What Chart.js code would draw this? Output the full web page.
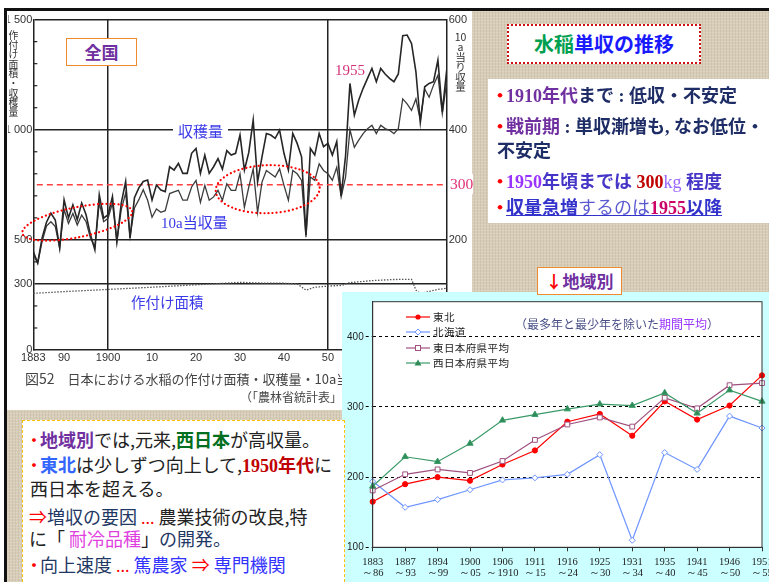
<!DOCTYPE html>
<html>
<head>
<meta charset="utf-8">
<script src="https://cdn.jsdelivr.net/npm/chart.js@4.4.0/dist/chart.umd.min.js"></script>
<style>
  html, body { margin: 0; padding: 0; }
  body {
    width: 769px; height: 582px; overflow: hidden; position: relative;
    font-family: "Noto Sans CJK JP", sans-serif;
    background:
      repeating-linear-gradient(0deg, rgba(255,255,255,0.13) 0 1px, transparent 1px 3px),
      repeating-linear-gradient(90deg, rgba(110,90,60,0.10) 0 1px, transparent 1px 3px),
      #d7cdb8;
  }
  .abs { position: absolute; }
  .ser { font-family: "Liberation Serif", "Noto Sans CJK JP", serif; }
  .r { color: #ff0000; }
  .b { position: absolute; white-space: nowrap; line-height: 24px; }
  .dots { font-family: "Liberation Serif", serif; color: #ff0000; }
</style>
</head>
<body>

<!-- frame of the scanned figure -->
<div class="abs" style="left:0;top:0;width:769px;height:8px;background:#fff"></div>
<div class="abs" style="left:0;top:0;width:4px;height:582px;background:#fff"></div>
<div class="abs" style="left:4px;top:8px;width:765px;height:3px;background:#111"></div>
<div class="abs" style="left:4px;top:8px;width:3px;height:574px;background:#111"></div>
<div class="abs" style="left:7px;top:11px;width:465px;height:399px;background:#fff"></div>

<canvas id="zenkoku" class="abs" width="464" height="399" style="left:8px;top:11px"></canvas>

<!-- texts on the figure -->
<div class="abs" style="left:8px;top:31px;width:11px;font-size:9.8px;line-height:9.6px;color:#333;text-align:center">作<br>付<br>け<br>面<br>積<br>・<br>収<br>穫<br>量</div>
<div class="abs" style="left:454px;top:32px;width:13px;font-size:10.5px;line-height:10px;color:#333;text-align:center">10<br>a<br>当<br>り<br>収<br>量</div>
<div class="abs" style="left:66px;top:38px;width:69px;height:26px;border:1.5px solid #f08a30;background:#fff;text-align:center;font-size:17px;line-height:26px;font-weight:bold;color:#7030a0">全国</div>
<div class="abs ser" style="left:335px;top:62px;font-size:15px;color:#d2307a">1955</div>
<div class="abs" style="left:173px;top:121px;padding:0 5px;background:#fff;font-size:15px;line-height:20px;color:#3a3ae8">収穫量</div>
<div class="abs ser" style="left:161px;top:212px;font-size:15px;line-height:20px;color:#3a3ae8">10a<span style="font-family:'Noto Sans CJK JP'">当収量</span></div>
<div class="abs" style="left:131px;top:292px;font-size:14.5px;line-height:20px;color:#3a3ae8">作付け面積</div>
<div class="abs ser" style="left:450px;top:174px;font-size:15.5px;line-height:20px;color:#e0307a;background:#fff">300</div>
<div class="abs" style="left:25px;top:369px;font-size:13px;line-height:18px;color:#444;white-space:nowrap"><span style="font-size:14px">図52</span>　日本における水稲の作付け面積・収穫量・10a当収量</div>
<div class="abs" style="left:240px;top:389px;font-size:12px;line-height:16px;color:#444;white-space:nowrap">（「農林省統計表」により作成）</div>

<!-- top right -->
<div class="abs" style="left:507px;top:24px;width:190px;height:36px;background:#fff;border:2px dotted #cc1010;text-align:center;font-size:20px;line-height:36px;font-weight:bold;color:#1a1aff">
  <span style="color:#00a050">水稲</span>単収の推移</div>

<div class="abs" style="left:488px;top:79px;width:290px;height:144px;background:#fff;font-weight:bold;font-size:18px;color:#1f2d66">
  <div class="b ser" style="left:3px;top:5px"><span class="r" style="letter-spacing:-3px">・</span><span style="color:#7030a0">1910年代</span>まで : 低収・不安定</div>
  <div class="b ser" style="left:3px;top:36px"><span class="r" style="letter-spacing:-3px">・</span><span style="color:#7030a0">戦前期</span> : 単収漸増も, なお低位・</div>
  <div class="b ser" style="left:9px;top:60px">不安定</div>
  <div class="b ser" style="left:3px;top:91px"><span class="r" style="letter-spacing:-3px">・</span><span style="color:#9933ff">1950</span><span style="color:#4636c8">年頃までは </span><span style="color:#c00000">300</span><span style="color:#9966ff;font-weight:normal">kg</span><span style="color:#4636c8"> 程度</span></div>
  <div class="b ser" style="left:3px;top:117px"><span class="r" style="letter-spacing:-3px">・</span><span style="color:#3333cc;text-decoration:underline">収量急増<span style="font-weight:normal;color:#5a5ad0">するのは</span><span style="color:#cc0066">1955</span>以降</span></div>
</div>

<div class="abs" style="left:537px;top:267px;width:83px;height:26px;background:#fff;border:1.5px solid #f08a30;text-align:center;font-size:17px;line-height:26px;font-weight:bold;color:#7030a0;z-index:7">
  <span class="r">↓</span>地域別</div>

<!-- right panel: regional chart -->
<div class="abs" style="left:342px;top:292px;width:427px;height:290px;background:#ccffff;overflow:hidden;z-index:5">
  <canvas id="chiiki" class="abs" width="440" height="290" style="left:0;top:0"></canvas>
  <div id="legend" class="abs" style="left:64px;top:18px;font-size:10.5px;color:#222"></div>
  <div class="abs" style="left:173px;top:24px;font-size:12px;line-height:16px;color:#4a5088;white-space:nowrap">（最多年と最少年を除いた<span style="color:#9933ff">期間平均</span>）</div>
</div>

<!-- bottom left text -->
<div class="abs" style="left:22px;top:420px;width:321px;height:170px;background:#fff;border:1.5px dashed #ffc000;font-size:18px;color:#222;z-index:6">
  <div class="b" style="left:2px;top:6px"><span class="r" style="letter-spacing:-3px">・</span><b style="color:#7030a0">地域別</b>では,元来,<b style="color:#007020">西日本</b>が高収量。</div>
  <div class="b" style="left:2px;top:31px"><span class="r" style="letter-spacing:-3px">・</span><b style="color:#3366ff">東北</b>は少しずつ向上して,<b class="ser" style="color:#c00000">1950年代</b>に</div>
  <div class="b" style="left:7px;top:55px">西日本を超える。</div>
  <div class="b" style="left:6px;top:83px"><span class="r">⇒</span><span style="color:#1f3864">増収の要因</span> <span class="dots">...</span> 農業技術の改良,特</div>
  <div class="b" style="left:6px;top:105px">に「 <span style="color:#e040e0">耐冷品種</span>」<span style="color:#1f3864">の開発。</span></div>
  <div class="b" style="left:2px;top:131px"><span class="r" style="letter-spacing:-3px">・</span><span style="color:#1f3864">向上速度</span> <span class="dots">...</span> <span style="color:#3333ff">篤農家</span> <span class="r">⇒</span> <span style="color:#3333ff">専門機関</span></div>
</div>

<script>
// ---- 全国 (annual) ----
var years = [1883,1884,1885,1886,1887,1888,1889,1890,1891,1892,1893,1894,1895,1896,1897,1898,1899,
  1900,1901,1902,1903,1904,1905,1906,1907,1908,1909,1910,1911,1912,1913,1914,1915,1916,1917,1918,1919,
  1920,1921,1922,1923,1924,1925,1926,1927,1928,1929,1930,1931,1932,1933,1934,1935,1936,1937,1938,1939,
  1940,1941,1942,1943,1944,1945,1946,1947,1948,1949,1950,1951,1952,1953,1954,1955,1956,1957,1958,1959,
  1960,1961,1962,1963,1964,1965,1966,1967,1968,1969,1970,1971,1972,1973,1974,1975,1976,1977];
// 収穫量 (left axis)
var harvest = [447,395,509,580,621,590,464,682,600,659,591,667,614,523,455,705,599,
  614,697,492,667,765,508,691,736,765,772,681,749,726,719,832,817,847,802,802,893,
  915,802,885,802,832,869,821,905,885,893,976,817,897,1044,764,877,983,976,961,998,
  893,817,983,938,877,522,915,885,983,923,938,885,946,700,880,1210,1066,1135,1188,1233,
  1278,1218,1278,1253,1233,1218,1253,1427,1430,1392,1263,1033,1195,1210,1218,1316,1082,1271];
// 10a当収量 (right axis)
var yieldPer10a = [173,158,197,225,233,224,185,255,230,248,227,245,233,203,188,267,233,
  239,267,197,255,285,206,258,273,291,272,241,256,250,253,284,287,290,272,272,296,
  308,268,299,272,278,290,272,302,290,290,320,259,296,329,250,305,326,320,314,329,
  299,272,326,320,308,205,314,308,338,326,320,308,332,278,314,400,368,381,393,402,
  408,393,408,402,399,393,402,456,447,435,456,417,474,459,481,499,429,487];
// 作付け面積 (left axis, read at turning points)
var areaYears = [1883,1890,1900,1910,1920,1930,1935,1940,1943,1945,1947,1950,1953,1955,1960,1965,1969,1970,1971,1975,1977];
var areaValues = [257,265,275,285,296,307,304,303,300,272,285,290,293,306,315,320,321,272,257,275,280];
// red reference line (right axis)
var refYears = [1883.8, 1977];
var refValues = [300, 300];

var xTickYears = [1883,1890,1900,1910,1920,1930,1940,1950,1960,1970];
var leftTicks = [0,300,500,1000,1500];
var leftTickLabels = {0:'0',300:'300',500:'500',1000:'1 000',1500:'1 500'};
var rightTicks = [0,200,400,600];

// ---- 地域別 (period averages) ----
var periodLabels = [['1883','～86'],['1887','～93'],['1894','～99'],['1900','～05'],['1906','～1910'],
  ['1911','～15'],['1916','～24'],['1925','～30'],['1931','～34'],['1935','～40'],['1941','～45'],['1946','～50'],['1951','～55']];
var tohoku    = [165,190,200,195,218,238,279,290,259,308,282,302,345];
var hokkaido  = [194,157,168,182,196,199,204,232,110,235,211,287,270];
var higashi   = [181,204,211,206,223,253,275,285,272,313,298,331,334];
var nishi     = [187,229,222,248,281,289,297,304,302,320,291,324,308];

function pts(xs, ys) {
  var out = [];
  for (var i = 0; i < xs.length; i++) out.push({x: xs[i], y: ys[i]});
  return out;
}

var minorTicks = {
  id: 'minorTicks',
  afterDatasetsDraw: function(chart) {
    var c = chart.ctx, a = chart.chartArea, ys = chart.scales.y;
    c.save();
    c.strokeStyle = '#222';
    c.lineWidth = 1.2;
    for (var v = 100; v < 1500; v += 100) {
      if (leftTicks.indexOf(v) >= 0) continue;
      var py = ys.getPixelForValue(v);
      c.beginPath(); c.moveTo(a.left, py); c.lineTo(a.left + 4, py); c.stroke();
    }
    // red dotted circles
    var xs = chart.scales.x;
    var rings = [
      {year: 1893, val: 580, rx: 56, ry: 15, rot: -0.2},
      {year: 1936.3, val: 730, rx: 52, ry: 24, rot: -0.03}
    ];
    c.strokeStyle = '#ff0000';
    c.lineWidth = 2.2;
    c.lineCap = 'round';
    c.setLineDash([0.1, 4]);
    rings.forEach(function(r) {
      c.beginPath();
      c.ellipse(xs.getPixelForValue(r.year), ys.getPixelForValue(r.val), r.rx, r.ry, r.rot, 0, Math.PI * 2);
      c.stroke();
    });
    c.restore();
  }
};

new Chart(document.getElementById('zenkoku'), {
  type: 'line',
  data: {
    datasets: [
      {label: '収穫量', data: pts(years, harvest), yAxisID: 'y', borderColor: '#262626', borderWidth: 1.6, pointRadius: 0},
      {label: '10a当収量', data: pts(years, yieldPer10a), yAxisID: 'y2', borderColor: '#3c3c3c', borderWidth: 1.3, pointRadius: 0},
      {label: '作付け面積', data: pts(areaYears, areaValues), yAxisID: 'y', borderColor: '#555', borderWidth: 1.3, borderDash: [1.5, 1.5], pointRadius: 0},
      {label: '300', data: pts(refYears, refValues), yAxisID: 'y2', borderColor: '#ff4040', borderWidth: 1.5, borderDash: [6, 4], pointRadius: 0}
    ]
  },
  options: {
    responsive: false,
    animation: false,
    layout: {padding: {top: 8.3}},
    plugins: {legend: {display: false}, tooltip: {enabled: false}},
    scales: {
      x: {
        type: 'linear', min: 1883, max: 1977,
        afterBuildTicks: function(s) { s.ticks = xTickYears.map(function(v) { return {value: v}; }); },
        afterFit: function(s) { s.height = 60; },
        grid: {
          color: function(c) { return (c.tick && (c.tick.value === 1900 || c.tick.value === 1950)) ? '#222' : 'rgba(0,0,0,0)'; },
          lineWidth: 1.5, drawTicks: false
        },
        border: {color: '#222', width: 1.5},
        ticks: {
          autoSkip: false, maxRotation: 0, padding: 1, color: '#333',
          font: {family: 'Liberation Sans', size: 11},
          callback: function(v) { return (v === 1883 || v === 1900) ? String(v) : String(v % 100).padStart(2, '0'); }
        }
      },
      y: {
        position: 'left', min: 0, max: 1500,
        afterBuildTicks: function(s) { s.ticks = leftTicks.map(function(v) { return {value: v}; }); },
        afterFit: function(s) { s.width = 25.3; },
        grid: {
          color: function(c) { return (c.tick && c.tick.value > 0) ? '#222' : 'rgba(0,0,0,0)'; },
          lineWidth: 1.5, drawTicks: false
        },
        border: {color: '#222', width: 1.5},
        ticks: {
          padding: 1, color: '#333', font: {family: 'Liberation Sans', size: 11},
          callback: function(v) { return leftTickLabels[v]; }
        }
      },
      y2: {
        position: 'right', min: 0, max: 600,
        afterBuildTicks: function(s) { s.ticks = rightTicks.map(function(v) { return {value: v}; }); },
        afterFit: function(s) { s.width = 25.3; },
        grid: {drawOnChartArea: false, drawTicks: false},
        border: {color: '#222', width: 1.5},
        ticks: {
          padding: 2, color: '#333', font: {family: 'Liberation Sans', size: 11},
          callback: function(v) { return v === 0 ? '' : String(v); }
        }
      }
    }
  },
  plugins: [minorTicks]
});

// ---- regional chart ----
var series = [
  {label: '東北', data: tohoku, color: '#ff0000', style: 'circle', r: 2.6, fill: '#ff0000'},
  {label: '北海道', data: hokkaido, color: '#6f96ff', style: 'rectRot', r: 3, fill: '#ffffff'},
  {label: '東日本府県平均', data: higashi, color: '#a0507f', style: 'rect', r: 3.4, fill: '#ffffff'},
  {label: '西日本府県平均', data: nishi, color: '#3a9a68', style: 'triangle', r: 3.6, fill: '#2e8b57'}
];

var plotFrame = {
  id: 'plotFrame',
  beforeDraw: function(chart) {
    var a = chart.chartArea, c = chart.ctx;
    c.save(); c.fillStyle = '#fff';
    c.fillRect(a.left, a.top, a.right - a.left, a.bottom - a.top);
    c.restore();
  },
  afterDraw: function(chart) {
    var a = chart.chartArea, c = chart.ctx;
    c.save(); c.strokeStyle = '#333'; c.lineWidth = 1;
    c.strokeRect(a.left, a.top, a.right - a.left, a.bottom - a.top);
    c.restore();
  }
};

new Chart(document.getElementById('chiiki'), {
  type: 'line',
  data: {
    labels: periodLabels,
    datasets: series.map(function(s) {
      return {
        label: s.label, data: s.data, borderColor: s.color, borderWidth: 1.2,
        pointStyle: s.style, pointRadius: s.r, pointBackgroundColor: s.fill,
        pointBorderColor: s.color, pointBorderWidth: 1
      };
    }).reverse()
  },
  options: {
    responsive: false,
    animation: false,
    layout: {padding: {top: 9.7, right: 20}},
    plugins: {legend: {display: false}, tooltip: {enabled: false}},
    scales: {
      x: {
        offset: false,
        afterFit: function(s) { s.height = 34.7; },
        grid: {drawOnChartArea: false, tickLength: 4, tickColor: '#333'},
        border: {color: '#333'},
        ticks: {autoSkip: false, maxRotation: 0, padding: 5, color: '#222',
          font: {family: 'Liberation Serif', size: 10.5, lineHeight: 1.1}}
      },
      y: {
        min: 100, max: 450,
        afterBuildTicks: function(s) { s.ticks = [100, 200, 300, 400].map(function(v) { return {value: v}; }); },
        afterFit: function(s) { s.width = 30.7; },
        grid: {
          color: function(c) { return (c.tick && c.tick.value === 100) ? 'rgba(0,0,0,0)' : '#000'; },
          tickColor: '#000', tickLength: 7, tickBorderDash: [3, 3]
        },
        border: {color: '#333', dash: [3, 3]},
        ticks: {padding: 2, color: '#222', font: {family: 'Liberation Sans', size: 10}}
      }
    }
  },
  plugins: [plotFrame]
});

// legend (html)
var lg = document.getElementById('legend');
series.forEach(function(s, i) {
  var mk;
  if (s.style === 'circle') mk = '<circle cx="12" cy="5" r="2.6" fill="' + s.fill + '"/>';
  else if (s.style === 'rectRot') mk = '<polygon points="12,2 15,5 12,8 9,5" fill="#fff" stroke="' + s.color + '"/>';
  else if (s.style === 'rect') mk = '<rect x="9.5" y="2.5" width="5" height="5" fill="#fff" stroke="' + s.color + '"/>';
  else mk = '<polygon points="12,1.5 15.5,7.5 8.5,7.5" fill="' + s.fill + '"/>';
  lg.innerHTML += '<div style="position:absolute;left:0;top:' + (i * 15.2) + 'px;white-space:nowrap;line-height:12px">' +
    '<svg width="25" height="10" style="vertical-align:middle"><line x1="0" y1="5" x2="24" y2="5" stroke="' + s.color + '" stroke-width="1.2"/>' + mk + '</svg>' +
    '<span style="vertical-align:middle;margin-left:2px;letter-spacing:0.4px">' + s.label + '</span></div>';
});
</script>
</body>
</html>
